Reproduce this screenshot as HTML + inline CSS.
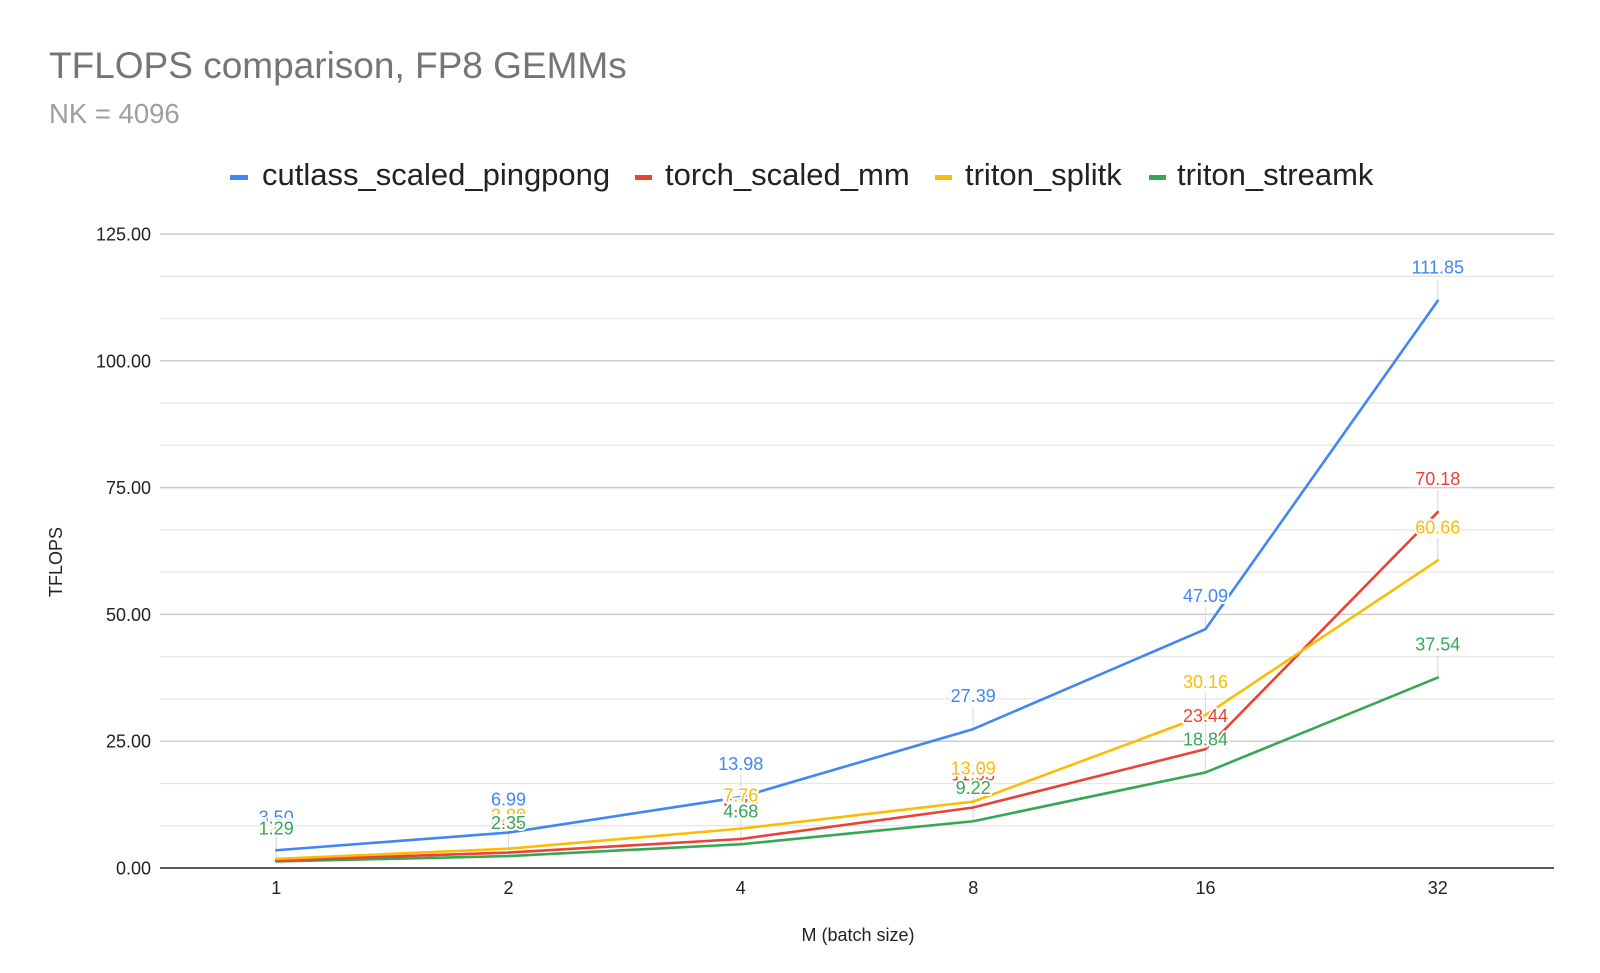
<!DOCTYPE html>
<html>
<head>
<meta charset="utf-8">
<style>
  html, body { margin:0; padding:0; background:#ffffff; }
  body { width:1600px; height:973px; overflow:hidden; }
  svg { display:block; font-family:"Liberation Sans", Arial, sans-serif; }
  .dl { font-size:18px; text-anchor:middle; stroke:#ffffff; stroke-width:4px; paint-order:stroke; stroke-linejoin:round; }
  .tick { font-size:18px; fill:#222222; }
</style>
</head>
<body>
<svg width="1600" height="973" viewBox="0 0 1600 973" xmlns="http://www.w3.org/2000/svg">
  <rect x="0" y="0" width="1600" height="973" fill="#ffffff"/>

  <!-- Title -->
  <text x="49" y="78" font-size="37" fill="#757575">TFLOPS comparison, FP8 GEMMs</text>
  <text x="49" y="123" font-size="27.5" fill="#9e9e9e">NK = 4096</text>

  <!-- Legend -->
  <rect x="230" y="175" width="18" height="5" fill="#4285F4"/>
  <text x="262" y="185" font-size="31" fill="#222222">cutlass_scaled_pingpong</text>
  <rect x="635" y="175" width="17" height="5" fill="#EA4335"/>
  <text x="665" y="185" font-size="31" fill="#222222">torch_scaled_mm</text>
  <rect x="935" y="175" width="17" height="5" fill="#FBBC04"/>
  <text x="965" y="185" font-size="31" fill="#222222">triton_splitk</text>
  <rect x="1149" y="175" width="17" height="5" fill="#34A853"/>
  <text x="1177" y="185" font-size="31" fill="#222222">triton_streamk</text>

  <!-- Minor gridlines -->
  <g stroke="#e6e6e6" stroke-width="1.3">
    <line x1="160" y1="825.7" x2="1554" y2="825.7"/>
    <line x1="160" y1="783.5" x2="1554" y2="783.5"/>
    <line x1="160" y1="698.9" x2="1554" y2="698.9"/>
    <line x1="160" y1="656.7" x2="1554" y2="656.7"/>
    <line x1="160" y1="572.1" x2="1554" y2="572.1"/>
    <line x1="160" y1="529.9" x2="1554" y2="529.9"/>
    <line x1="160" y1="445.3" x2="1554" y2="445.3"/>
    <line x1="160" y1="403.1" x2="1554" y2="403.1"/>
    <line x1="160" y1="318.5" x2="1554" y2="318.5"/>
    <line x1="160" y1="276.3" x2="1554" y2="276.3"/>
  </g>
  <!-- Major gridlines -->
  <g stroke="#cccccc" stroke-width="1.5">
    <line x1="160" y1="741.2" x2="1554" y2="741.2"/>
    <line x1="160" y1="614.4" x2="1554" y2="614.4"/>
    <line x1="160" y1="487.6" x2="1554" y2="487.6"/>
    <line x1="160" y1="360.8" x2="1554" y2="360.8"/>
    <line x1="160" y1="234" x2="1554" y2="234"/>
  </g>

  <!-- Y tick labels -->
  <g class="tick" text-anchor="end">
    <text x="151" y="874.5">0.00</text>
    <text x="151" y="747.7">25.00</text>
    <text x="151" y="620.9">50.00</text>
    <text x="151" y="494.1">75.00</text>
    <text x="151" y="367.3">100.00</text>
    <text x="151" y="240.5">125.00</text>
  </g>

  <!-- X tick labels -->
  <g class="tick" text-anchor="middle">
    <text x="276.2" y="894">1</text>
    <text x="508.5" y="894">2</text>
    <text x="740.8" y="894">4</text>
    <text x="973.2" y="894">8</text>
    <text x="1205.5" y="894">16</text>
    <text x="1437.8" y="894">32</text>
  </g>

  <!-- Axis titles -->
  <text x="858" y="941" font-size="18" fill="#222222" text-anchor="middle">M (batch size)</text>
  <text transform="translate(62,562) rotate(-90)" font-size="18" fill="#222222" text-anchor="middle">TFLOPS</text>

  <!-- Leader lines (per label) -->
  <g stroke="#dddddd" stroke-width="1.2">
    <!-- x=1 -->
    <line x1="276.2" y1="828" x2="276.2" y2="850"/>
    <line x1="276.2" y1="838" x2="276.2" y2="861"/>
    <!-- x=2 -->
    <line x1="508.5" y1="810" x2="508.5" y2="832"/>
    <line x1="508.5" y1="826" x2="508.5" y2="856"/>
    <!-- x=4 -->
    <line x1="740.8" y1="775" x2="740.8" y2="797"/>
    <line x1="740.8" y1="806" x2="740.8" y2="844"/>
    <!-- x=8 -->
    <line x1="973.2" y1="707" x2="973.2" y2="729"/>
    <line x1="973.2" y1="779" x2="973.2" y2="821"/>
    <!-- x=16 -->
    <line x1="1205.5" y1="607" x2="1205.5" y2="629"/>
    <line x1="1205.5" y1="693" x2="1205.5" y2="772"/>
    <!-- x=32 -->
    <line x1="1437.8" y1="279" x2="1437.8" y2="300.7"/>
    <line x1="1437.8" y1="490" x2="1437.8" y2="512"/>
    <line x1="1437.8" y1="538" x2="1437.8" y2="560"/>
    <line x1="1437.8" y1="656" x2="1437.8" y2="677.6"/>
  </g>

  <!-- Baseline axis -->
  <line x1="160" y1="868" x2="1554" y2="868" stroke="#222222" stroke-width="1.6"/>

  <!-- Series lines -->
  <g fill="none" stroke-width="2.6" stroke-linejoin="round" stroke-linecap="round">
    <polyline stroke="#34A853" points="276.2,861.46 508.5,856.08 740.8,844.26 973.2,821.24 1205.5,772.44 1437.8,677.60"/>
    <polyline stroke="#EA4335" points="276.2,860.39 508.5,852.53 740.8,838.99 973.2,807.49 1205.5,749.11 1437.8,512.05"/>
    <polyline stroke="#FBBC04" points="276.2,858.87 508.5,848.73 740.8,828.64 973.2,801.61 1205.5,715.03 1437.8,560.33"/>
    <polyline stroke="#4285F4" points="276.2,850.25 508.5,832.55 740.8,797.09 973.2,729.08 1205.5,629.16 1437.8,300.70"/>
  </g>

  <!-- Data labels: blue -->
  <g class="dl" fill="#4285F4">
    <text x="276.2" y="823.3">3.50</text>
    <text x="508.5" y="805.5">6.99</text>
    <text x="740.8" y="770.1">13.98</text>
    <text x="973.2" y="702.1">27.39</text>
    <text x="1205.5" y="602.2">47.09</text>
    <text x="1437.8" y="273.7">111.85</text>
  </g>
  <!-- red -->
  <g class="dl" fill="#EA4335">
    <text x="276.2" y="833.4">1.50</text>
    <text x="508.5" y="825.5">3.05</text>
    <text x="740.8" y="812">5.72</text>
    <text x="973.2" y="780.5">11.93</text>
    <text x="1205.5" y="722.1">23.44</text>
    <text x="1437.8" y="485">70.18</text>
  </g>
  <!-- yellow -->
  <g class="dl" fill="#FBBC04">
    <text x="276.2" y="831.9">1.80</text>
    <text x="508.5" y="821.7">3.80</text>
    <text x="740.8" y="801.6">7.76</text>
    <text x="973.2" y="774.6">13.09</text>
    <text x="1205.5" y="688">30.16</text>
    <text x="1437.8" y="533.3">60.66</text>
  </g>
  <!-- green -->
  <g class="dl" fill="#34A853">
    <text x="276.2" y="834.5">1.29</text>
    <text x="508.5" y="829.1">2.35</text>
    <text x="740.8" y="817.3">4.68</text>
    <text x="973.2" y="794.2">9.22</text>
    <text x="1205.5" y="745.4">18.84</text>
    <text x="1437.8" y="650.6">37.54</text>
  </g>
</svg>
</body>
</html>
